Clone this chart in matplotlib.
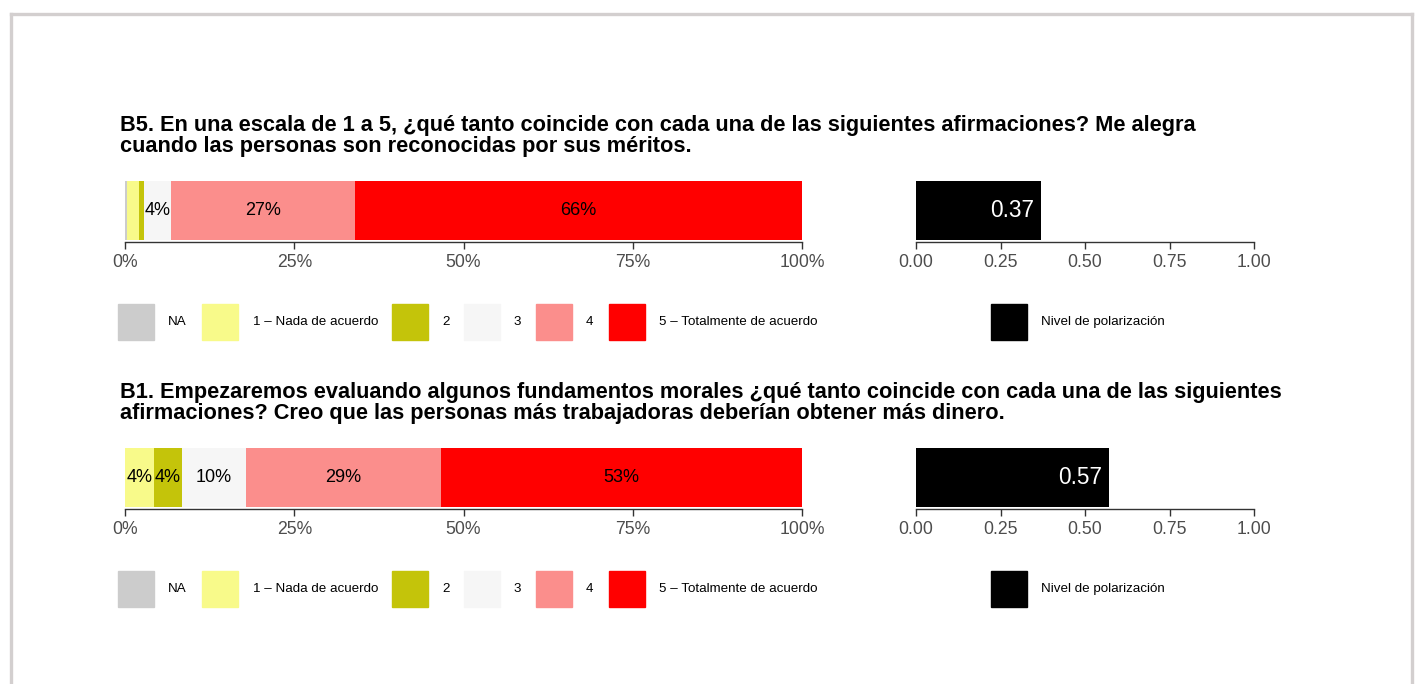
import matplotlib
matplotlib.use("Agg")
import matplotlib.pyplot as plt
from matplotlib.lines import Line2D
from matplotlib.patches import Rectangle

plt.rcParams['font.family'] = ['Liberation Sans', 'DejaVu Sans']

W, H = 1416, 684
DPI = 100

categories = ["NA", "1 – Nada de acuerdo", "2", "3", "4", "5 – Totalmente de acuerdo"]
colors = ["#cccccc", "#f8fa8a", "#c4c40a", "#f6f6f6", "#fb8e8c", "#ff0000"]

titles = [
    ["B5. En una escala de 1 a 5, ¿qué tanto coincide con cada una de las siguientes afirmaciones? Me alegra",
     "cuando las personas son reconocidas por sus méritos."],
    ["B1. Empezaremos evaluando algunos fundamentos morales ¿qué tanto coincide con cada una de las siguientes",
     "afirmaciones? Creo que las personas más trabajadoras deberían obtener más dinero."],
]
values_b5 = [0.25, 1.8, 0.75, 4.0, 27.2, 66.0]
values_b1 = [0.0, 4.3, 4.1, 9.5, 28.8, 53.3]
polarization = [0.37, 0.57]
pct_ticks = [0, 25, 50, 75, 100]
pct_labels = ["0%", "25%", "50%", "75%", "100%"]
pol_ticks = [0, 0.25, 0.5, 0.75, 1.0]
pol_labels = ["0.00", "0.25", "0.50", "0.75", "1.00"]
pol_legend = "Nivel de polarización"

series = [values_b5, values_b1]

fig = plt.figure(figsize=(W / DPI, H / DPI), dpi=DPI)


def fx(px):
    return px / W


def fy(py):
    return 1 - py / H


def add_ax(x0, x1, ytop, ybot):
    return fig.add_axes([fx(x0), fy(ybot), fx(x1) - fx(x0), (ybot - ytop) / H])


# frame
for (xa, ya, xb, yb) in [(11, 14, 1412, 14), (11, 14, 11, 684), (1412, 14, 1412, 684)]:
    fig.add_artist(Line2D([fx(xa), fx(xb)], [fy(ya), fy(yb)], color="#d3cfcf", lw=2.4))

TICK_COLOR = "#4d4d4d"


def style_axis(ax, xlim, ticks, labels):
    ax.set_xlim(*xlim)
    ax.set_ylim(-2 / 59, 1)
    for s in ["top", "right", "left"]:
        ax.spines[s].set_visible(False)
    ax.spines["bottom"].set_color("#333333")
    ax.spines["bottom"].set_linewidth(1.0)
    ax.set_yticks([])
    ax.set_xticks(ticks)
    ax.set_xticklabels(labels)
    ax.tick_params(axis="x", length=5, width=1.0, color="#333333",
                   labelcolor=TICK_COLOR, labelsize=12.7, pad=3.5)
    ax.patch.set_alpha(0)


OFF = 267
blocks = [
    dict(t1=131, t2=152, bar_top=181, bar_bot=242, leg_y=322),
    dict(t1=131 + OFF, t2=152 + OFF, bar_top=181 + OFF, bar_bot=242 + OFF, leg_y=322 + OFF),
]

leg_items = [(118, 168), (202, 253), (392, 442), (464, 513), (536, 586), (609, 659)]

for i, b in enumerate(blocks):
    # title
    fig.text(fx(120), fy(b["t1"]), titles[i][0], fontsize=15.7, fontweight="bold",
             ha="left", va="baseline")
    fig.text(fx(120), fy(b["t2"]), titles[i][1], fontsize=15.7, fontweight="bold",
             ha="left", va="baseline")

    # stacked bar
    ax = add_ax(125, 802, b["bar_top"], b["bar_bot"])
    left = 0.0
    for v, c in zip(series[i], colors):
        ax.barh(0.5, v, left=left, height=1.0, color=c, edgecolor="none")
        if v >= 3:
            ax.text(left + v / 2, 0.5, f"{round(v)}%", ha="center", va="center",
                    fontsize=13, color="black")
        left += v
    style_axis(ax, (0, 100), pct_ticks, pct_labels)

    # polarization bar
    ax2 = add_ax(916, 1254, b["bar_top"], b["bar_bot"])
    p = polarization[i]
    ax2.barh(0.5, p, left=0, height=1.0, color="black", edgecolor="none")
    ax2.text(p - 0.02, 0.5, f"{p:.2f}", ha="right", va="center", fontsize=16.3, color="white")
    style_axis(ax2, (0, 1), pol_ticks, pol_labels)

    # legend
    ly = b["leg_y"]
    for (sx, tx), c, lab in zip(leg_items, colors, categories):
        fig.add_artist(Rectangle((fx(sx), fy(ly + 18)), 36 / W, 36 / H, color=c,
                                 transform=fig.transFigure))
        fig.text(fx(tx), fy(ly), lab, fontsize=9.6, ha="left", va="center", color="black")
    fig.add_artist(Rectangle((fx(991), fy(ly + 18)), 36 / W, 36 / H, color="black",
                             transform=fig.transFigure))
    fig.text(fx(1041), fy(ly), pol_legend, fontsize=9.6, ha="left", va="center", color="black")

fig.savefig("out.png", dpi=DPI)
